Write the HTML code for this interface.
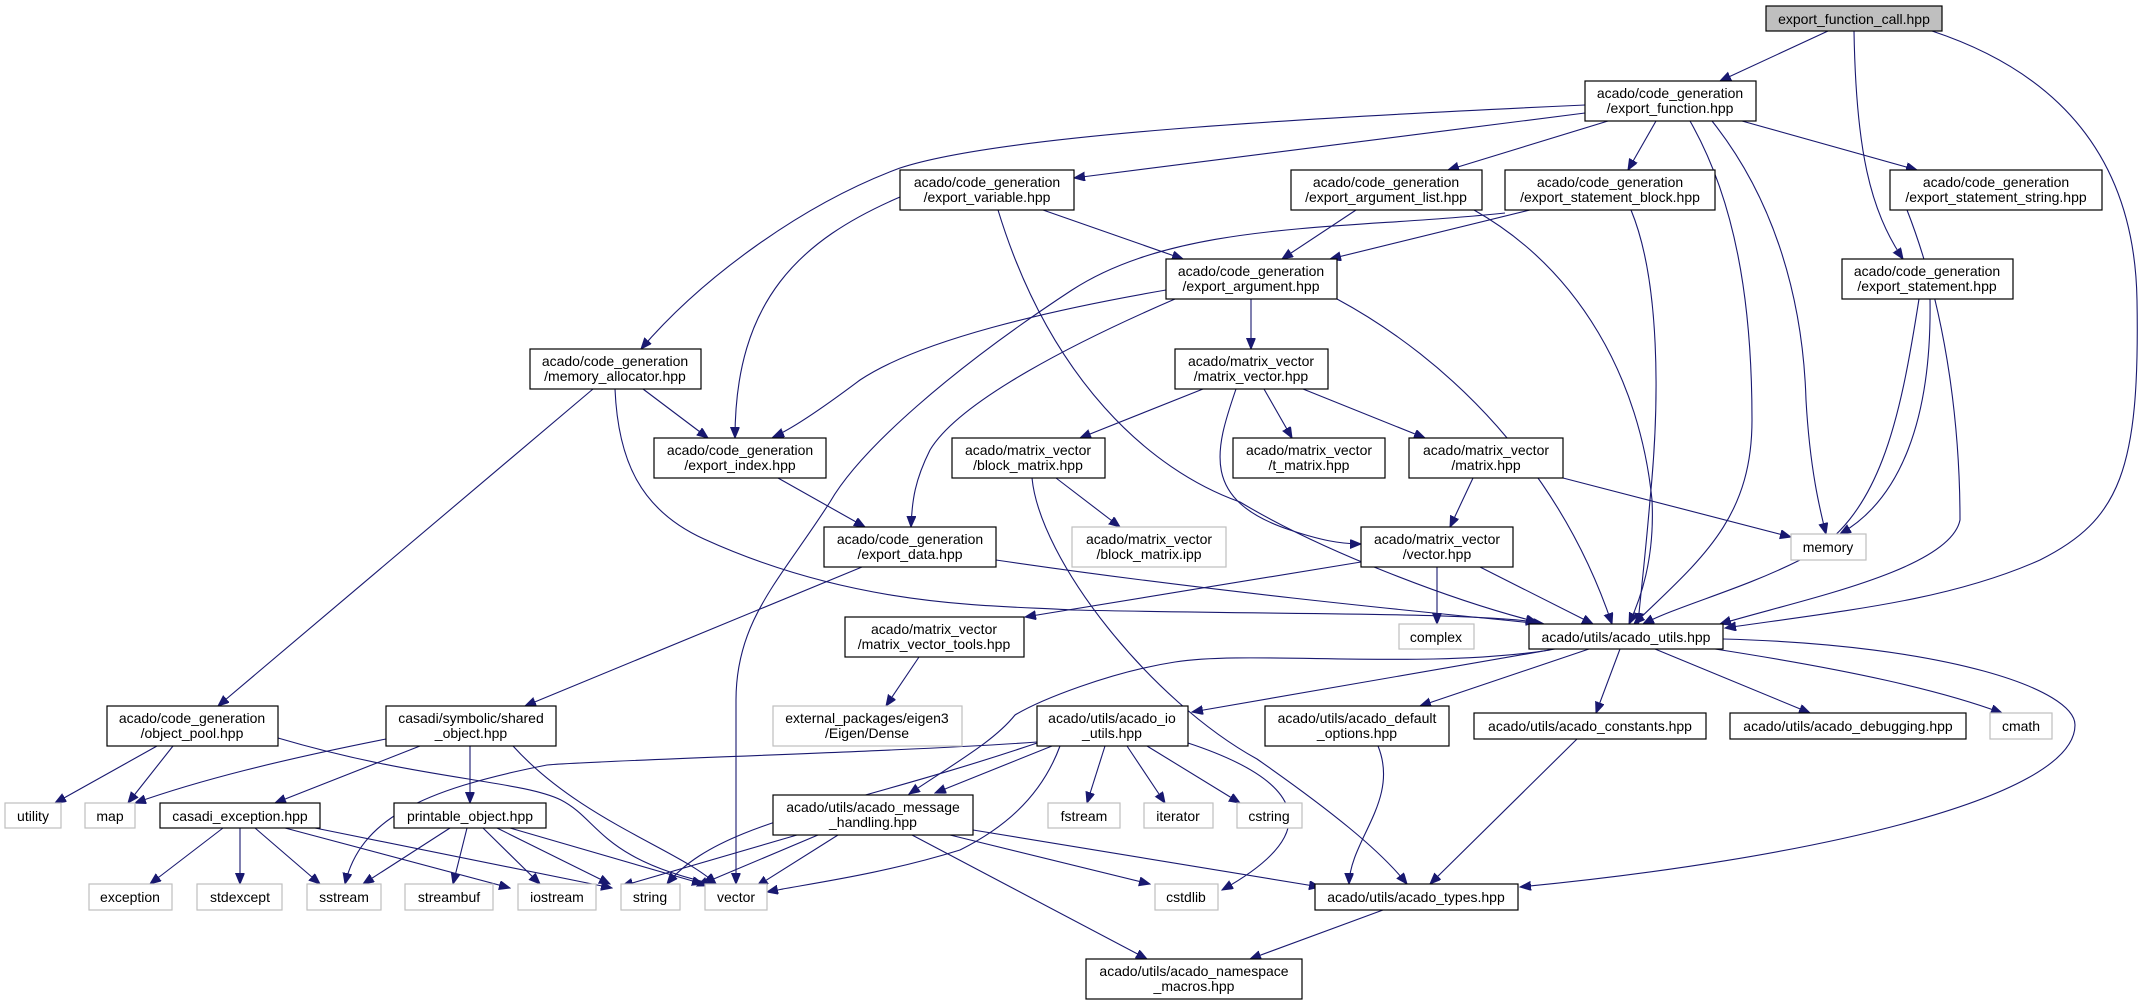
<!DOCTYPE html>
<html><head><meta charset="utf-8"><style>
html,body{margin:0;padding:0;background:#fff;}
svg{display:block;}
text{font-family:"Liberation Sans",sans-serif;font-size:14px;fill:#000;text-anchor:middle;}
.b{fill:#fff;stroke:#000;stroke-width:1.2;}
.g{fill:#fff;stroke:#bfbfbf;stroke-width:1.2;}
.e{fill:none;stroke:#191970;stroke-width:1.1;marker-end:url(#a);}
</style></head><body>
<svg width="2145" height="1005" viewBox="0 0 2145 1005" xmlns="http://www.w3.org/2000/svg">
<defs><marker id="a" markerUnits="userSpaceOnUse" markerWidth="12" markerHeight="10" refX="11" refY="4.5" orient="auto"><path d="M0,0 L11,4.5 L0,9 z" fill="#191970" stroke="#191970"/></marker></defs>

<g>
<path class="e" d="M1828,31 L1720,81"/>
<path class="e" d="M1854,31 C1856,150 1870,210 1903,259"/>
<path class="e" d="M1932,31 C2080,80 2135,180 2137,300 C2140,470 2120,520 2040,560 C1950,600 1850,610 1725,628"/>
<path class="e" d="M1585,105 C1300,118 1000,135 900,168 C800,205 700,280 641,349"/>
<path class="e" d="M1585,113 L1074,178"/>
<path class="e" d="M1608,121 L1448,170"/>
<path class="e" d="M1656,121 L1628,170"/>
<path class="e" d="M1742,121 L1917,170"/>
<path class="e" d="M1690,121 C1735,200 1752,300 1752,420 C1752,520 1700,560 1634,624"/>
<path class="e" d="M1712,121 C1775,200 1803,300 1806,400 C1810,470 1820,510 1826,534"/>
<path class="e" d="M1930,299 C1932,420 1900,500 1840,534"/>
<path class="e" d="M1919,299 C1900,420 1880,520 1800,560 C1740,590 1680,605 1643,624"/>
<path class="e" d="M1631,210 C1660,280 1660,400 1650,500 C1645,560 1640,600 1638,624"/>
<path class="e" d="M1907,210 C1950,320 1960,440 1960,520 C1950,570 1800,600 1720,624"/>
<path class="e" d="M1356,210 L1282,259"/>
<path class="e" d="M1474,210 C1580,270 1640,380 1652,500 C1655,560 1640,600 1629,624"/>
<path class="e" d="M1530,210 L1330,259"/>
<path class="e" d="M1505,213 C1350,230 1180,220 1072,290 C950,370 860,450 830,502 C780,580 736,620 736,700 L736,884"/>
<path class="e" d="M900,197 C800,240 735,300 735,438"/>
<path class="e" d="M1043,210 L1183,259"/>
<path class="e" d="M998,210 C1050,380 1150,470 1240,502 C1320,550 1450,600 1537,622"/>
<path class="e" d="M1251,299 L1251,349"/>
<path class="e" d="M1166,290 C1050,310 920,340 860,380 C820,410 790,430 773,437"/>
<path class="e" d="M1175,299 C1080,340 960,400 930,450 C915,480 912,500 911,527"/>
<path class="e" d="M1337,299 C1450,360 1560,470 1612,624"/>
<path class="e" d="M643,389 L708,438"/>
<path class="e" d="M593,389 L218,706"/>
<path class="e" d="M615,389 C618,460 640,510 704,539 C860,610 1000,605 1072,610 C1300,615 1450,612 1537,622"/>
<path class="e" d="M778,478 L865,527"/>
<path class="e" d="M862,567 L525,706"/>
<path class="e" d="M996,560 C1200,590 1400,610 1544,624"/>
<path class="e" d="M1203,389 L1080,438"/>
<path class="e" d="M1264,389 L1292,438"/>
<path class="e" d="M1303,389 L1425,438"/>
<path class="e" d="M1236,389 C1215,450 1200,500 1290,530 C1320,540 1340,544 1361,544"/>
<path class="e" d="M1473,478 L1450,527"/>
<path class="e" d="M1563,478 L1791,537"/>
<path class="e" d="M1056,478 L1120,527"/>
<path class="e" d="M1032,478 C1040,560 1150,700 1257,759 C1330,810 1380,850 1407,884"/>
<path class="e" d="M1437,567 L1437,624"/>
<path class="e" d="M1480,567 L1593,624"/>
<path class="e" d="M1361,562 L1025,617"/>
<path class="e" d="M919,657 L886,706"/>
<path class="e" d="M1555,649 L1192,712"/>
<path class="e" d="M1550,650 C1420,670 1250,650 1175,662 C1110,672 1040,700 1015,715 C995,740 960,760 909,794"/>
<path class="e" d="M1589,649 L1420,706"/>
<path class="e" d="M1620,649 L1596,713"/>
<path class="e" d="M1655,649 L1810,713"/>
<path class="e" d="M1715,649 C1850,670 1940,690 2002,713"/>
<path class="e" d="M1723,639 C1950,645 2075,690 2075,725 C2075,800 1800,860 1520,887"/>
<path class="e" d="M1105,746 L1087,803"/>
<path class="e" d="M1127,746 L1165,803"/>
<path class="e" d="M1147,746 L1240,803"/>
<path class="e" d="M1188,743 C1300,780 1330,830 1222,890"/>
<path class="e" d="M1052,746 L935,793"/>
<path class="e" d="M1037,742 C900,752 600,760 547,765 C420,790 360,820 345,884"/>
<path class="e" d="M1040,742 C840,810 720,820 667,884"/>
<path class="e" d="M1060,746 C1040,800 1000,830 960,850 C880,875 800,885 767,892"/>
<path class="e" d="M797,835 L622,886"/>
<path class="e" d="M818,835 L697,886"/>
<path class="e" d="M838,835 L757,886"/>
<path class="e" d="M950,835 L1150,884"/>
<path class="e" d="M973,830 L1320,887"/>
<path class="e" d="M912,835 L1147,959"/>
<path class="e" d="M1378,746 C1400,800 1350,840 1349,884"/>
<path class="e" d="M1577,739 L1430,884"/>
<path class="e" d="M1383,910 L1250,959"/>
<path class="e" d="M157,746 L55,803"/>
<path class="e" d="M173,746 L128,803"/>
<path class="e" d="M278,738 C420,780 520,780 561,800 C600,820 600,860 718,885"/>
<path class="e" d="M386,739 C280,760 200,780 135,803"/>
<path class="e" d="M420,746 L275,803"/>
<path class="e" d="M470,746 L470,803"/>
<path class="e" d="M513,746 C580,820 680,850 716,884"/>
<path class="e" d="M223,828 L150,884"/>
<path class="e" d="M240,828 L240,884"/>
<path class="e" d="M255,828 L320,884"/>
<path class="e" d="M285,828 L510,888"/>
<path class="e" d="M315,828 L612,888"/>
<path class="e" d="M450,828 L363,884"/>
<path class="e" d="M467,828 L453,884"/>
<path class="e" d="M483,828 L540,884"/>
<path class="e" d="M497,828 L610,884"/>
<path class="e" d="M510,828 L703,884"/>
</g>

<rect x="1766" y="6" width="176" height="25" fill="#bfbfbf" stroke="#000" stroke-width="1.2"/><text x="1854" y="24">export_function_call.hpp</text>

<rect class="b" x="1585" y="81" width="171" height="40"/><text x="1670" y="98">acado/code_generation</text><text x="1670" y="113">/export_function.hpp</text>
<rect class="b" x="900" y="170" width="174" height="40"/><text x="987" y="187">acado/code_generation</text><text x="987" y="202">/export_variable.hpp</text>
<rect class="b" x="1291" y="170" width="191" height="40"/><text x="1386" y="187">acado/code_generation</text><text x="1386" y="202">/export_argument_list.hpp</text>
<rect class="b" x="1505" y="170" width="210" height="40"/><text x="1610" y="187">acado/code_generation</text><text x="1610" y="202">/export_statement_block.hpp</text>
<rect class="b" x="1890" y="170" width="212" height="40"/><text x="1996" y="187">acado/code_generation</text><text x="1996" y="202">/export_statement_string.hpp</text>
<rect class="b" x="1166" y="259" width="171" height="40"/><text x="1251" y="276">acado/code_generation</text><text x="1251" y="291">/export_argument.hpp</text>
<rect class="b" x="1842" y="259" width="171" height="40"/><text x="1927" y="276">acado/code_generation</text><text x="1927" y="291">/export_statement.hpp</text>
<rect class="b" x="530" y="349" width="171" height="40"/><text x="615" y="366">acado/code_generation</text><text x="615" y="381">/memory_allocator.hpp</text>
<rect class="b" x="1175" y="349" width="153" height="40"/><text x="1251" y="366">acado/matrix_vector</text><text x="1251" y="381">/matrix_vector.hpp</text>
<rect class="b" x="654" y="438" width="172" height="40"/><text x="740" y="455">acado/code_generation</text><text x="740" y="470">/export_index.hpp</text>
<rect class="b" x="952" y="438" width="153" height="40"/><text x="1028" y="455">acado/matrix_vector</text><text x="1028" y="470">/block_matrix.hpp</text>
<rect class="b" x="1233" y="438" width="152" height="40"/><text x="1309" y="455">acado/matrix_vector</text><text x="1309" y="470">/t_matrix.hpp</text>
<rect class="b" x="1409" y="438" width="154" height="40"/><text x="1486" y="455">acado/matrix_vector</text><text x="1486" y="470">/matrix.hpp</text>
<rect class="b" x="824" y="527" width="172" height="40"/><text x="910" y="544">acado/code_generation</text><text x="910" y="559">/export_data.hpp</text>
<rect class="g" x="1072" y="527" width="154" height="40"/><text x="1149" y="544">acado/matrix_vector</text><text x="1149" y="559">/block_matrix.ipp</text>
<rect class="b" x="1361" y="527" width="152" height="40"/><text x="1437" y="544">acado/matrix_vector</text><text x="1437" y="559">/vector.hpp</text>
<rect class="g" x="1791" y="534" width="75" height="26"/><text x="1828" y="552">memory</text>
<rect class="b" x="845" y="617" width="179" height="40"/><text x="934" y="634">acado/matrix_vector</text><text x="934" y="649">/matrix_vector_tools.hpp</text>
<rect class="g" x="1399" y="624" width="75" height="25"/><text x="1436" y="642">complex</text>
<rect class="b" x="1529" y="624" width="194" height="25"/><text x="1626" y="642">acado/utils/acado_utils.hpp</text>
<rect class="b" x="107" y="706" width="171" height="40"/><text x="192" y="723">acado/code_generation</text><text x="192" y="738">/object_pool.hpp</text>
<rect class="b" x="386" y="706" width="170" height="40"/><text x="471" y="723">casadi/symbolic/shared</text><text x="471" y="738">_object.hpp</text>
<rect class="g" x="773" y="706" width="189" height="40"/><text x="867" y="723">external_packages/eigen3</text><text x="867" y="738">/Eigen/Dense</text>
<rect class="b" x="1037" y="706" width="151" height="40"/><text x="1112" y="723">acado/utils/acado_io</text><text x="1112" y="738">_utils.hpp</text>
<rect class="b" x="1265" y="706" width="184" height="40"/><text x="1357" y="723">acado/utils/acado_default</text><text x="1357" y="738">_options.hpp</text>
<rect class="b" x="1474" y="713" width="232" height="26"/><text x="1590" y="731">acado/utils/acado_constants.hpp</text>
<rect class="b" x="1730" y="713" width="236" height="26"/><text x="1848" y="731">acado/utils/acado_debugging.hpp</text>
<rect class="g" x="1990" y="713" width="62" height="26"/><text x="2021" y="731">cmath</text>
<rect class="g" x="5" y="803" width="56" height="25"/><text x="33" y="821">utility</text>
<rect class="g" x="85" y="803" width="50" height="25"/><text x="110" y="821">map</text>
<rect class="b" x="160" y="803" width="160" height="25"/><text x="240" y="821">casadi_exception.hpp</text>
<rect class="b" x="394" y="803" width="152" height="25"/><text x="470" y="821">printable_object.hpp</text>
<rect class="b" x="773" y="795" width="200" height="40"/><text x="873" y="812">acado/utils/acado_message</text><text x="873" y="827">_handling.hpp</text>
<rect class="g" x="1048" y="803" width="72" height="25"/><text x="1084" y="821">fstream</text>
<rect class="g" x="1144" y="803" width="69" height="25"/><text x="1178" y="821">iterator</text>
<rect class="g" x="1237" y="803" width="65" height="25"/><text x="1269" y="821">cstring</text>
<rect class="g" x="89" y="884" width="83" height="26"/><text x="130" y="902">exception</text>
<rect class="g" x="197" y="884" width="85" height="26"/><text x="240" y="902">stdexcept</text>
<rect class="g" x="307" y="884" width="74" height="26"/><text x="344" y="902">sstream</text>
<rect class="g" x="405" y="884" width="88" height="26"/><text x="449" y="902">streambuf</text>
<rect class="g" x="518" y="884" width="78" height="26"/><text x="557" y="902">iostream</text>
<rect class="g" x="621" y="884" width="59" height="26"/><text x="650" y="902">string</text>
<rect class="g" x="705" y="884" width="62" height="26"/><text x="736" y="902">vector</text>
<rect class="g" x="1155" y="884" width="63" height="26"/><text x="1186" y="902">cstdlib</text>
<rect class="b" x="1315" y="884" width="203" height="26"/><text x="1416" y="902">acado/utils/acado_types.hpp</text>
<rect class="b" x="1086" y="959" width="216" height="40"/><text x="1194" y="976">acado/utils/acado_namespace</text><text x="1194" y="991">_macros.hpp</text>
</svg>
</body></html>
